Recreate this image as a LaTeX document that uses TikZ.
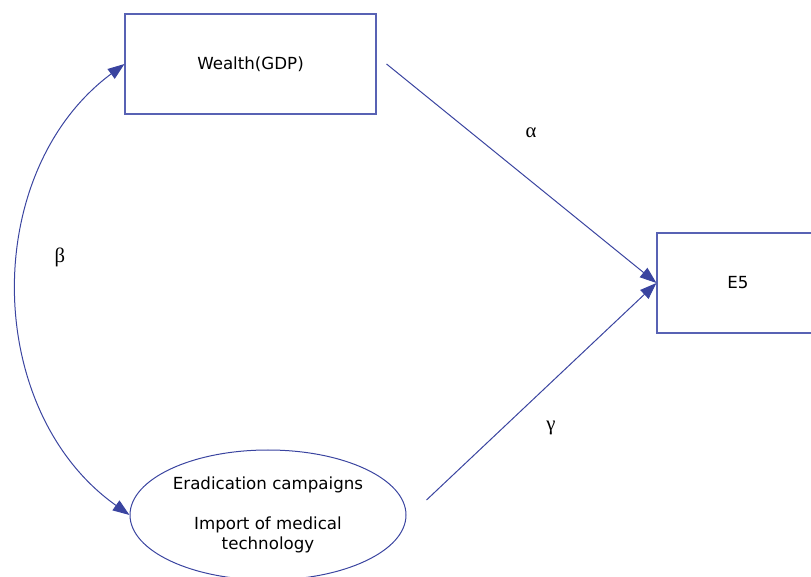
\documentclass[tikz,border=0pt]{standalone}
\usepackage{fontspec}
\setmainfont{DejaVu Sans}
\newfontfamily\greekfont{Liberation Serif}
\usetikzlibrary{arrows.meta,shapes.geometric}
\definecolor{pathblue}{RGB}{58,68,160}
\definecolor{boxblue}{RGB}{88,98,180}
\begin{document}
\begin{tikzpicture}
[x=0.75pt,y=-0.75pt,
  boxdecorate/.style={shape=rectangle,draw=boxblue,line width=0.8pt,inner sep=0pt,
    minimum height=75pt,font=\fontsize{12.5}{15}\selectfont},
  ovaldecorate/.style={shape=ellipse,draw=pathblue,line width=0.75pt,inner sep=0pt,
    minimum width=207pt,minimum height=97.5pt,align=center,
    font=\fontsize{12.5}{15}\selectfont},
  greekdecorate/.style={font=\fontsize{15.5}{18}\greekfont},
  linedecorate/.style={draw=pathblue,line width=0.75pt},
  tipdecorate/.style={-{Triangle[length=12.5pt,width=9pt]}}]
\useasboundingbox (0,0) rectangle (811,577);
%% nodes or vertices
\node (wealth) at (250.5,64) [boxdecorate,minimum width=188.25pt] {Wealth(GDP)};
\node (e5) at (738,283) [boxdecorate,minimum width=121.5pt] {E5};
\node (eradication) at (268,515) [ovaldecorate]
  {Eradication campaigns\\[15pt]Import of medical\\technology};
\foreach \labelname/\x/\y/\letter in {alpha/531/133/α, beta/60/257/β,
  gamma/551/428/γ}
{
  \node (\labelname) at (\x,\y) [greekdecorate] {\letter};
}
%% edges or lines
\coordinate (wealthout) at ([xshift=7.5pt]wealth.east);
\coordinate (eradicationout) at ([xshift=15pt,yshift=11.25pt]eradication.east);
\path
\foreach \startnode/\endnode in {wealthout/e5.west, eradicationout/e5.west}
{
  (\startnode) edge[linedecorate,tipdecorate] (\endnode)
};
\path (eradication.west) edge[linedecorate,
  {Triangle[length=12.5pt,width=9pt]}-{Triangle[length=12.5pt,width=9pt]},
  bend left=54,looseness=1.02] (wealth.west);
\end{tikzpicture}
\end{document}
